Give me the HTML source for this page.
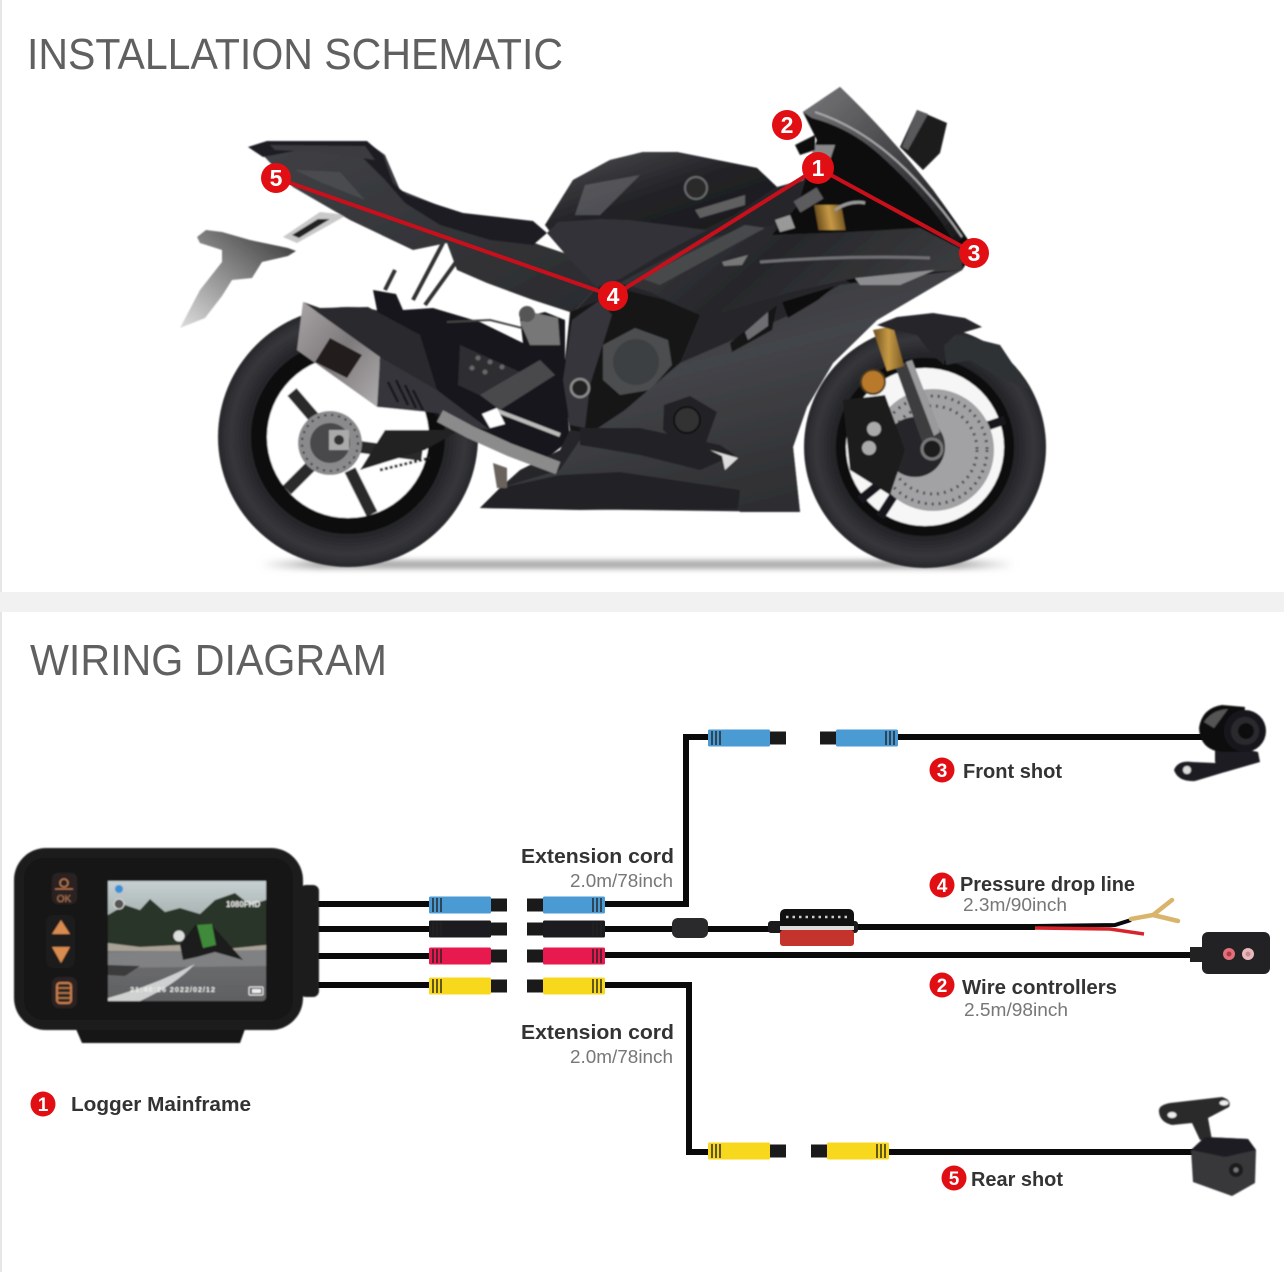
<!DOCTYPE html>
<html><head><meta charset="utf-8"><title>Installation schematic and wiring diagram</title>
<style>html,body{margin:0;padding:0;background:#fff}svg{display:block}text{font-family:"Liberation Sans",sans-serif}</style></head>
<body>
<svg xmlns="http://www.w3.org/2000/svg" width="1284" height="1272" viewBox="0 0 1284 1272">
<defs>
<filter id="b1" x="-5%" y="-5%" width="110%" height="110%"><feGaussianBlur stdDeviation="0.7"/></filter>
<filter id="b3" x="-10%" y="-200%" width="120%" height="500%"><feGaussianBlur stdDeviation="3"/></filter>
<linearGradient id="body" x1="0" y1="0" x2="0.5" y2="1"><stop offset="0" stop-color="#303135"/><stop offset=".5" stop-color="#434448"/><stop offset="1" stop-color="#2e2f32"/></linearGradient>
<linearGradient id="upper" x1="0" y1="0" x2="1" y2="0.3"><stop offset="0" stop-color="#3c3d41"/><stop offset=".5" stop-color="#26272a"/><stop offset="1" stop-color="#3a3b3e"/></linearGradient>
<linearGradient id="tank" x1="0" y1="0" x2="1" y2="1"><stop offset="0" stop-color="#4d4e52"/><stop offset=".5" stop-color="#222326"/><stop offset="1" stop-color="#17171a"/></linearGradient>
<linearGradient id="tail" x1="0" y1="0" x2="1" y2="1"><stop offset="0" stop-color="#3f4045"/><stop offset="1" stop-color="#2a2b2e"/></linearGradient>
<linearGradient id="muff" x1="0" y1="0" x2="1" y2="1"><stop offset="0" stop-color="#a9a5a6"/><stop offset=".5" stop-color="#7e7a7c"/><stop offset="1" stop-color="#b0adae"/></linearGradient>
<linearGradient id="shield" x1="0" y1="0" x2="1" y2="1"><stop offset="0" stop-color="#77777a"/><stop offset=".5" stop-color="#454548"/><stop offset="1" stop-color="#141416"/></linearGradient>
<linearGradient id="gold" x1="0" y1="0" x2="1" y2="0"><stop offset="0" stop-color="#6e4f1e"/><stop offset=".5" stop-color="#c69a45"/><stop offset="1" stop-color="#7a5a24"/></linearGradient>
<linearGradient id="fade" x1="1" y1="0" x2="0" y2="1"><stop offset="0" stop-color="#333"/><stop offset="1" stop-color="#ddd"/></linearGradient>
<linearGradient id="shadow" x1="0" y1="0" x2="1" y2="0"><stop offset="0" stop-color="#bbb" stop-opacity="0"/><stop offset=".08" stop-color="#aaa"/><stop offset=".92" stop-color="#aaa"/><stop offset="1" stop-color="#bbb" stop-opacity="0"/></linearGradient>
<linearGradient id="sky" x1="0" y1="0" x2="0" y2="1"><stop offset="0" stop-color="#c7d0d2"/><stop offset="1" stop-color="#8d9a94"/></linearGradient>
<linearGradient id="road" x1="0" y1="0" x2="0" y2="1"><stop offset="0" stop-color="#7f8081"/><stop offset="1" stop-color="#5f6062"/></linearGradient>
<radialGradient id="tyre"><stop offset=".72" stop-color="#202124"/><stop offset=".9" stop-color="#36373b"/><stop offset="1" stop-color="#27282b"/></radialGradient>
<g id="con">
  <rect x="0" y="-8.500" width="62" height="17" rx="1.500" fill="currentColor"/>
  <rect x="62" y="-6.500" width="16" height="13" fill="#1a1a1a"/>
  <g fill="#222" opacity=".7"><rect x="3" y="-7" width="2" height="14"/><rect x="7" y="-7" width="2" height="14"/><rect x="11" y="-7" width="2" height="14"/></g>
</g>
</defs>

<rect width="1284" height="1272" fill="#fff"/>
<rect x="0" y="0" width="2" height="1272" fill="#e6e6e6"/>
<rect x="0" y="592" width="1284" height="20" fill="#f1f1f1"/>

<text x="27" y="69" font-size="44" fill="#606060" textLength="536" lengthAdjust="spacingAndGlyphs">INSTALLATION SCHEMATIC</text>
<text x="30" y="675" font-size="44" fill="#606060" textLength="357" lengthAdjust="spacingAndGlyphs">WIRING DIAGRAM</text>

<!-- MOTORCYCLE -->
<rect x="260" y="560" width="755" height="9" fill="url(#shadow)" filter="url(#b3)"/>
<g filter="url(#b1)">
  <!-- plate bracket -->
  <path d="M197 237 L206 230 L222 232 L250 240 L288 248 L296 251 L288 256 L262 262 L252 278 L232 280 L222 296 L205 318 L180 328 L200 290 L222 262 L222 250 L200 243Z" fill="url(#fade)"/>
  <path d="M283 237 L320 212 L347 215 L297 243Z" fill="#c9c9c9"/>
  <path d="M292 235 L318 219 L330 219 L299 238Z" fill="#222"/>

  <!-- rear wheel -->
  <circle cx="348" cy="437" r="130" fill="url(#tyre)"/>
  <circle cx="348" cy="437" r="97" fill="#0c0c0e"/>
  <circle cx="348" cy="437" r="81" fill="#fff"/>
  <g stroke="#2a2a2c" stroke-width="12" stroke-linecap="butt">
    <line x1="335" y1="442" x2="292" y2="392"/><line x1="335" y1="442" x2="287" y2="490"/>
    <line x1="350" y1="470" x2="372" y2="514"/><line x1="345" y1="445" x2="422" y2="455"/>
  </g>
  <circle cx="330" cy="443" r="32" fill="#8a8a8c"/>
  <circle cx="330" cy="443" r="28" fill="none" stroke="#333" stroke-width="2" stroke-dasharray="2 5"/>
  <circle cx="330" cy="443" r="20" fill="#4a4a4c"/>
  <rect x="329" y="430" width="20" height="20" fill="#aaa"/><circle cx="339" cy="440" r="5" fill="#333"/>
  <path d="M385 430 L460 430 L425 450 L360 470Z" fill="#222"/>
  <line x1="380" y1="470" x2="430" y2="458" stroke="#222" stroke-width="3" stroke-dasharray="3 2"/>

  <!-- subframe -->
  <g stroke="#333" stroke-width="4" fill="none"><path d="M413 300 L443 243"/><path d="M425 305 L456 262"/><path d="M385 290 L395 270"/></g>

  <!-- swingarm / central dark -->
  <path d="M373 290 L396 294 L403 310 L433 308 L480 322 L523 343 L520 318 L545 312 L565 320 L565 380 L570 440 L547 458 L500 445 L463 428 L440 420 L420 400 L385 350Z" fill="#17171a"/>
  <path d="M460 345 L520 372 L490 400 L458 385Z" fill="#2e2f33"/>
  <g fill="#666"><circle cx="478" cy="358" r="2.500"/><circle cx="490" cy="362" r="2.500"/><circle cx="502" cy="367" r="2.500"/><circle cx="472" cy="368" r="2.500"/><circle cx="485" cy="372" r="2.500"/></g>
  <path d="M447 322 L490 320 L530 330" fill="none" stroke="#444" stroke-width="2"/>
  <path d="M520 322 L535 313 L558 318 L560 345 L530 345Z" fill="#777"/>
  <circle cx="527" cy="314" r="8" fill="#555"/>
  <path d="M480 395 L540 360 L555 375 L500 410Z" fill="#4a4a4c"/>
  <path d="M495 410 L560 435" stroke="#bbb" stroke-width="4"/>
  <path d="M482 414 L497 408 L505 424 L490 428Z" fill="#fff"/>

  <!-- muffler -->
  <path d="M303 302 L320 308 L368 307 L420 335 L437 390 L380 357Z" fill="#2a2a2d"/>
  <path d="M303 302 L380 357 L377 407 L297 350Z" fill="url(#muff)"/>
  <path d="M330 338 L362 355 L347 378 L315 362Z" fill="#211a1f"/>
  <path d="M380 357 L437 390 L470 415 L490 430 L455 424 L437 413 L377 407Z" fill="#35353a"/>
  <g stroke="#17171a" stroke-width="2.500"><line x1="388" y1="382" x2="398" y2="402"/><line x1="396" y1="380" x2="408" y2="405"/><line x1="405" y1="385" x2="416" y2="408"/><line x1="413" y1="390" x2="423" y2="410"/></g>

  <!-- front wheel -->
  <circle cx="925" cy="447" r="121" fill="url(#tyre)"/>
  <circle cx="925" cy="447" r="89" fill="#0b0b0d"/>
  <circle cx="925" cy="447" r="79" fill="#f6f6f6"/>
  <g stroke="#17171a" stroke-width="9"><line x1="925" y1="447" x2="860" y2="500"/><line x1="925" y1="447" x2="880" y2="517"/><line x1="925" y1="447" x2="1005" y2="420"/></g>
  <circle cx="933" cy="450" r="61" fill="#a2a2a4"/>
  <circle cx="933" cy="450" r="54" fill="none" stroke="#444" stroke-width="3" stroke-dasharray="2 5"/>
  <circle cx="933" cy="450" r="44" fill="none" stroke="#444" stroke-width="3" stroke-dasharray="2 5"/>
  <circle cx="915" cy="447" r="30" fill="#28282b"/>
  <path d="M843 400 L885 395 L905 450 L890 495 L850 470Z" fill="#1a1a1c"/>
  <circle cx="874" cy="429" r="7" fill="#aaa"/><circle cx="869" cy="448" r="7" fill="#aaa"/>
  <path d="M895 366 L912 360 L945 445 L928 458Z" fill="#3e3e41"/>
  <path d="M906 362 L912 360 L940 432 L934 436Z" fill="#9a9a9c"/>
  <circle cx="932" cy="449" r="10" fill="#1a1a1a" stroke="#777" stroke-width="3"/>
  <path d="M873 330 L893 326 L904 366 L887 371Z" fill="url(#gold)"/>
  <circle cx="873" cy="382" r="12" fill="#b9792a" stroke="#4a3a1e" stroke-width="2"/>
  <!-- fender -->
  <path d="M877 325 L897 317 L933 313 L965 318 L982 327 L955 335 L946 345 L944 365 L930 352 L917 335 L893 330Z" fill="#26272a"/>
  <path d="M944 345 L960 335 L1000 345 L1030 390 L1000 378 L970 360 L946 365Z" fill="#2f3034"/>

  <!-- rear tail & seat -->
  <path d="M260 152 L293 187 L350 220 L413 250 L447 243 L457 270 L487 283 L533 300 L573 313 L597 287 L600 265 L540 245 L450 210 L400 190 L385 155 L367 142 L267 142Z" fill="url(#tail)"/>
  <path d="M248 147 L267 141 L367 141 L383 155 L393 183 L407 195 L463 213 L533 221 L547 233 L533 245 L490 240 L440 225 L405 203 L385 180 L360 155 L300 150 L263 157Z" fill="#1d1d20"/>
  <path d="M270 145 L365 146 L375 160 L320 152 L275 150Z" fill="#3b3b3f"/>
  <path d="M295 170 L340 172 L365 200 L320 182Z" fill="#55565a" opacity=".6"/>

  <!-- main backing silhouette -->
  <path d="M545 225 L573 180 L610 160 L643 152 L677 152 L757 168 L777 187 L803 180 L817 140 L803 112 L840 87 L893 147 L933 190 L963 237 L975 250 L962 270 L933 287 L877 320 L833 363 L807 407 L793 447 L800 512 L480 508 L500 488 L520 470 L560 450 L570 430 L563 380 L573 313 L597 287 L572 262Z" fill="#26272a"/>

  <!-- tank -->
  <path d="M545 225 L573 180 L610 160 L643 152 L677 152 L757 168 L777 187 L735 215 L700 232 L620 222 L600 220 L560 232Z" fill="url(#tank)"/>
  <path d="M585 185 L640 175 L600 215 L575 215Z" fill="#62636a" opacity=".7"/>
  <circle cx="696" cy="188" r="11" fill="#2a2a2c" stroke="#6b6b6d" stroke-width="2"/>
  <path d="M695 210 L745 195 L745 205 L700 218Z" fill="#5e5e60"/>
  <path d="M547 233 L558 222 L600 219 L630 220 L707 230 L660 255 L620 279 L597 287 L572 262Z" fill="#323337"/>

  <!-- engine -->
  <path d="M570 312 L625 290 L665 300 L700 315 L680 363 L625 410 L600 435 L570 430 L563 380Z" fill="#131315"/>
  <path d="M572 320 L600 300 L612 315 L590 385 L585 428 L570 425 L563 380Z" fill="#35363a"/>
  <circle cx="580" cy="388" r="9" fill="#222" stroke="#8a8a8a" stroke-width="2.500"/>
  <path d="M603 345 L635 328 L668 340 L672 365 L650 390 L620 395 L603 380Z" fill="#4c4d50"/>
  <circle cx="636" cy="362" r="23" fill="#3e3f42"/>

  <!-- lower fairing -->
  <path d="M625 410 L680 363 L733 340 L790 315 L840 285 L962 270 L933 287 L877 320 L833 363 L807 407 L793 447 L800 512 L740 512 L730 498 L660 505 L580 508 L480 508 L500 488 L560 470 L580 440Z" fill="url(#body)"/>
  <path d="M480 508 L500 488 L560 475 L620 472 L740 490 L738 508 L580 510Z" fill="#232326"/>
  <path d="M580 428 L640 428 L720 445 L735 455 L700 470 L640 455 L580 445Z" fill="#232326"/>
  <path d="M664 405 L690 396 L717 412 L705 445 L680 445 L663 430Z" fill="#222225"/>
  <circle cx="687" cy="420" r="13" fill="#333" stroke="#111" stroke-width="2"/>
  <path d="M710 450 L738 458 L725 470 L722 456Z" fill="#ddd"/>
  <path d="M730 343 L777 305 L772 330 L732 352Z" fill="#141416"/>
  <path d="M745 332 L768 312 L768 326 L748 340Z" fill="#6e6e72"/>
  <path d="M782 302 L835 286 L818 300 L788 318Z" fill="#0f0f11"/>

  <!-- exhaust pipe -->
  <path d="M493 463 L507 468 L507 488 L497 488Z" fill="#6a625c"/>
  <path d="M440 416 L470 432 L510 450 L558 468" fill="none" stroke="#8b8b8b" stroke-width="13"/>

  <!-- windshield and cockpit -->
  <path d="M803 112 L840 87 Q890 135 933 190 Q955 220 975 250 L962 270 L850 283 L772 235 L798 205 L817 140Z" fill="#0e0e10"/>
  <path d="M803 112 L840 87 Q890 135 933 190 Q950 215 963 237 L955 245 Q935 205 880 155 Q850 128 812 118Z" fill="url(#shield)"/>
  <path d="M815 112 Q875 132 925 190 Q945 212 962 237" fill="none" stroke="#a6a6a8" stroke-width="2"/>
  <path d="M917 110 L947 123 L940 153 L923 170 L900 147Z" fill="#1c1c1e"/>
  <path d="M917 110 L928 114 L908 150 L902 147Z" fill="#5a5a5c"/>
  <rect x="815" y="205" width="27" height="25" fill="url(#gold)" transform="skewX(10) translate(-37 0)"/>
  <path d="M797 207 L820 193" stroke="#5c5c5e" stroke-width="13"/>
  <path d="M835 210 Q850 200 865 203" fill="none" stroke="#999" stroke-width="3"/>
  <path d="M775 220 L790 215 L795 228 L780 232Z" fill="#999"/>
  <path d="M810 145 L835 145 L830 160 L815 160Z" fill="#888"/>
  <path d="M795 145 L815 135 L815 150 L800 155Z" fill="#111"/>

  <!-- upper fairing -->
  <path d="M620 283 L700 240 L775 225 L772 235 L850 232 L920 228 L963 250 L962 270 L860 277 L790 292 L725 312 L700 315 L650 292Z" fill="url(#upper)"/>
  <path d="M640 278 L745 225 L765 228 L660 285Z" fill="#47484c"/>
  <path d="M760 262 Q850 255 930 258" fill="none" stroke="#707074" stroke-width="3"/>
  <path d="M855 278 L935 270 L900 285 L860 285Z" fill="#8d8d90"/>
  <path d="M722 262 L748 255 L742 265 L724 266Z" fill="#777"/>
</g>

<!-- red connectors -->
<g stroke="#c8101c" stroke-width="4" fill="none" stroke-linecap="round">
  <line x1="276" y1="178" x2="613" y2="296"/>
  <line x1="613" y1="296" x2="818" y2="168"/>
  <line x1="818" y1="168" x2="974" y2="253"/>
</g>
<g font-weight="bold" font-size="23" fill="#fff" text-anchor="middle">
  <circle cx="818" cy="168" r="16" fill="#e10f14"/><text x="818" y="176">1</text>
  <circle cx="787" cy="125" r="15" fill="#e10f14"/><text x="787" y="133">2</text>
  <circle cx="974" cy="253" r="15" fill="#e10f14"/><text x="974" y="261">3</text>
  <circle cx="613" cy="296" r="15" fill="#e10f14"/><text x="613" y="304">4</text>
  <circle cx="276" cy="178" r="15" fill="#e10f14"/><text x="276" y="186">5</text>
</g>

<!-- WIRES -->
<g stroke="#0a0a0a" stroke-width="6" fill="none">
  <path d="M318 904 H432"/><path d="M318 929 H432"/><path d="M318 956 H432"/><path d="M318 985 H432"/>
  <path d="M600 904 H686 V737 H712"/>
  <path d="M600 929 H785"/><path d="M850 927 H1035"/>
  <path d="M600 955 H1192"/>
  <path d="M600 985 H689 V1152 H712"/>
  <path d="M893 737 H1205"/>
  <path d="M885 1152 H1195"/>
</g>
<path d="M1035 926 L1115 925 L1131 920" fill="none" stroke="#0a0a0a" stroke-width="4"/>
<path d="M1035 928 L1110 929 L1144 934" fill="none" stroke="#d8232a" stroke-width="3.500"/>
<path d="M1131 919 L1153 915 L1172 900 M1153 915 L1178 921" fill="none" stroke="#d9b56c" stroke-width="4.500" stroke-linecap="round"/>

<!-- connectors -->
<use href="#con" x="429" y="905" color="#4a9ad4"/>
<use href="#con" x="429" y="929" color="#1c1c20"/>
<use href="#con" x="429" y="956" color="#e8194f"/>
<use href="#con" x="429" y="986" color="#f8d81c"/>
<use href="#con" transform="translate(605 905) scale(-1 1)" color="#4a9ad4"/>
<use href="#con" transform="translate(605 929) scale(-1 1)" color="#1c1c20"/>
<use href="#con" transform="translate(605 956) scale(-1 1)" color="#e8194f"/>
<use href="#con" transform="translate(605 986) scale(-1 1)" color="#f8d81c"/>
<use href="#con" x="708" y="738" color="#4a9ad4"/>
<use href="#con" transform="translate(898 738) scale(-1 1)" color="#4a9ad4"/>
<use href="#con" x="708" y="1151" color="#f8d81c"/>
<use href="#con" transform="translate(889 1151) scale(-1 1)" color="#f8d81c"/>

<!-- ferrite and fuse box -->
<rect x="672" y="918" width="36" height="20" rx="6" fill="#2a2a2c"/>
<rect x="768" y="921" width="90" height="12" rx="3" fill="#1b1b1d"/>
<rect x="780" y="909" width="74" height="37" rx="5" fill="#111"/>
<rect x="780" y="926" width="74" height="4" fill="#ddd"/>
<rect x="780" y="930" width="74" height="16" rx="3" fill="#c5332d"/>
<line x1="786" y1="917" x2="850" y2="917" stroke="#ccc" stroke-width="2.500" stroke-dasharray="2.500 4"/>

<!-- wire controller -->
<rect x="1190" y="947" width="14" height="15" fill="#222"/>
<rect x="1202" y="932" width="68" height="42" rx="6" fill="#222224"/>
<circle cx="1229" cy="954" r="6" fill="#e1707c"/><circle cx="1229" cy="954" r="2.500" fill="#b23a48"/>
<circle cx="1248" cy="954" r="6" fill="#e8b9bc"/><circle cx="1248" cy="954" r="2.500" fill="#c58d91"/>

<!-- front camera -->
<g filter="url(#b1)">
  <path d="M1215 748 L1240 748 L1258 752 L1258 762 L1225 772 L1215 762Z" fill="#1e1e20"/>
  <path d="M1174 770 Q1178 760 1192 762 L1215 763 L1235 755 L1258 752 L1260 762 L1225 772 L1195 781 Q1178 782 1174 770Z" fill="#1e1e20"/>
  <circle cx="1187" cy="770" r="4" fill="#ddd"/>
  <path d="M1199 728 Q1202 708 1222 705 L1245 707 L1240 752 L1222 752 Q1200 750 1199 728Z" fill="#111"/>
  <path d="M1204 722 Q1212 710 1228 709 L1214 728Z" fill="#555"/>
  <circle cx="1245" cy="731" r="21" fill="#19191b"/>
  <circle cx="1245" cy="731" r="14" fill="#2c2c2f"/>
  <circle cx="1246" cy="731" r="8" fill="#0c0c0e"/>
</g>

<!-- rear camera -->
<g filter="url(#b1)">
  <path d="M1159 1112 Q1158 1105 1170 1103 L1222 1097 Q1232 1100 1229 1107 L1208 1118 L1212 1140 L1200 1140 L1192 1123 L1172 1125 Q1160 1122 1159 1112Z" fill="#2a2a2c"/>
  <ellipse cx="1172" cy="1115" rx="4.500" ry="3" fill="#eee"/><ellipse cx="1224" cy="1103" rx="4.500" ry="2.500" fill="#eee"/>
  <path d="M1191 1150 L1205 1137 L1248 1139 L1256 1150 L1255 1183 L1232 1196 L1193 1182Z" fill="#37373a"/>
  <path d="M1191 1150 L1205 1137 L1248 1139 L1256 1150 L1225 1157Z" fill="#1e1e20"/>
  <circle cx="1236" cy="1170" r="7" fill="#1a1a1c"/><circle cx="1236" cy="1170" r="2.500" fill="#77777a"/>
</g>

<!-- MAINFRAME -->
<g filter="url(#b1)">
  <rect x="300" y="885" width="19" height="112" rx="6" fill="#1a1a1c"/>
  <path d="M70 1015 H250 L240 1043 H82Z" fill="#131315"/>
  <rect x="14" y="848" width="289" height="182" rx="32" fill="#1c1c1e"/>
  <rect x="24" y="858" width="269" height="162" rx="20" fill="#131315"/>
  <rect x="52" y="873" width="25" height="31" rx="6" fill="#2a2423"/>
  <rect x="46" y="915" width="29" height="53" rx="7" fill="#1b1b1c"/>
  <rect x="52" y="977" width="25" height="31" rx="7" fill="#2b2422"/>
  <path d="M52 934 L61 920 L70 934Z" fill="#d98c50"/>
  <path d="M52 947 L70 947 L61 963Z" fill="#d98c50"/>
  <rect x="57" y="983" width="14" height="20" rx="3" fill="none" stroke="#c97f4c" stroke-width="2"/>
  <g stroke="#c97f4c" stroke-width="1.500"><line x1="58" y1="988" x2="70" y2="988"/><line x1="58" y1="993" x2="70" y2="993"/><line x1="58" y1="998" x2="70" y2="998"/></g>
  <circle cx="64" cy="883" r="4" fill="none" stroke="#c98154" stroke-width="1.300"/>
  <line x1="55" y1="889" x2="73" y2="889" stroke="#c98154"/>
  <text x="64" y="902" font-size="10" fill="#b87a55" text-anchor="middle">OK</text>

  <!-- screen -->
  <rect x="108" y="881" width="158" height="120" rx="4" fill="url(#road)"/>
  <path d="M108 881 H266 V945 H108Z" fill="url(#sky)"/>
  <path d="M108 915 L125 905 L140 910 L150 899 L165 912 L180 908 L200 914 L215 900 L235 893 L250 905 L266 900 V950 H108Z" fill="#2c352c"/>
  <path d="M108 943 L140 947 L180 945 L215 950 L266 945 V951 L108 951Z" fill="#a9a297"/>
  <path d="M108 952 L266 950 V966 L108 968Z" fill="#808182"/>
  <path d="M108 998 Q155 985 195 964 Q175 985 140 1001 L108 1001Z" fill="#cfd0d0"/>
  <path d="M108 965 L140 966 L125 976 L108 975Z" fill="#3a3a3b"/>
  <path d="M180 945 L195 925 L212 925 L243 960 L215 952 L197 957 L183 960Z" fill="#1a1c1a"/>
  <path d="M197 925 L212 924 L216 945 L203 948Z" fill="#3f8a3a"/>
  <circle cx="179" cy="936" r="5.500" fill="#dedede"/>
  <circle cx="119" cy="889" r="4" fill="#3a8fd6"/>
  <circle cx="119" cy="904" r="5" fill="#555" stroke="#ddd"/>
  <text x="226" y="907" font-size="8" font-weight="bold" fill="#eee">1080FHD</text>
  <text x="130" y="992" font-size="7.500" font-weight="bold" fill="#eee" textLength="85">21:40:26  2022/02/12</text>
  <rect x="249" y="987" width="14" height="8" rx="1" fill="none" stroke="#eee"/><rect x="252" y="989" width="9" height="4" fill="#eee"/>
</g>

<!-- LABELS -->
<g fill="#333" font-weight="bold" font-size="20">
  <text x="521" y="863" textLength="153" lengthAdjust="spacingAndGlyphs">Extension cord</text>
  <text x="521" y="1039" textLength="153" lengthAdjust="spacingAndGlyphs">Extension cord</text>
  <text x="963" y="778" textLength="99" lengthAdjust="spacingAndGlyphs">Front shot</text>
  <text x="960" y="891" textLength="175" lengthAdjust="spacingAndGlyphs">Pressure drop line</text>
  <text x="962" y="994" textLength="155" lengthAdjust="spacingAndGlyphs">Wire controllers</text>
  <text x="971" y="1186" textLength="92" lengthAdjust="spacingAndGlyphs">Rear shot</text>
  <text x="71" y="1111" textLength="180" lengthAdjust="spacingAndGlyphs">Logger Mainframe</text>
</g>
<g fill="#777" font-size="18">
  <text x="570" y="887" textLength="103" lengthAdjust="spacingAndGlyphs">2.0m/78inch</text>
  <text x="570" y="1063" textLength="103" lengthAdjust="spacingAndGlyphs">2.0m/78inch</text>
  <text x="963" y="911" textLength="104" lengthAdjust="spacingAndGlyphs">2.3m/90inch</text>
  <text x="964" y="1016" textLength="104" lengthAdjust="spacingAndGlyphs">2.5m/98inch</text>
</g>
<g font-weight="bold" font-size="19" fill="#fff" text-anchor="middle">
  <circle cx="942" cy="770" r="12.500" fill="#e10f14"/><text x="942" y="777">3</text>
  <circle cx="942" cy="885" r="12.500" fill="#e10f14"/><text x="942" y="892">4</text>
  <circle cx="942" cy="985" r="12.500" fill="#e10f14"/><text x="942" y="992">2</text>
  <circle cx="954" cy="1178" r="12.500" fill="#e10f14"/><text x="954" y="1185">5</text>
  <circle cx="43" cy="1104" r="12.500" fill="#e10f14"/><text x="43" y="1111">1</text>
</g>
</svg>
</body></html>
